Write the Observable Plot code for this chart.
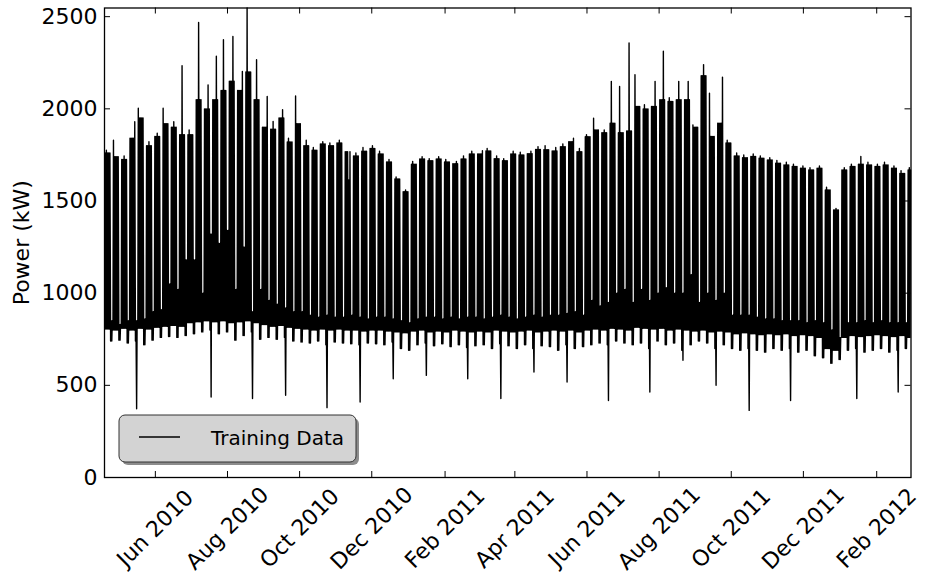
<!DOCTYPE html>
<html>
<head>
<meta charset="utf-8">
<script src="https://cdn.jsdelivr.net/npm/d3@7"></script>
<script src="https://cdn.jsdelivr.net/npm/@observablehq/plot@0.6"></script>
<style>
  html, body { margin: 0; padding: 0; background: #fff; }
  #chart { width: 926px; height: 581px; }
  #chart svg { display: block; }
</style>
</head>
<body>
<div id="chart"></div>
<script>
// Building load, Mon 2010-04-19 through 2012-02-29, summarised week by week
// (week 0 starts on Monday 2010-04-19; the last week is partial).
const firstMonday = "2010-04-19";
const dayCount = 682;

// Typical weekday daytime peak of each week (kW)
const weekTop = [1760,1740,1725,1840,1950,1800,1850,1920,1900,1860,
  1860,2050,2000,2050,2100,2150,2100,2200,2050,1900,
  1890,1950,1820,1920,1800,1775,1810,1800,1815,1768,
  1745,1770,1785,1755,1712,1620,1551,1700,1728,1718,
  1728,1712,1702,1728,1755,1755,1772,1730,1718,1755,
  1750,1757,1780,1778,1772,1795,1822,1768,1849,1886,
  1870,1922,1870,1880,2013,2000,2013,2049,2040,2049,
  2050,1900,2180,1850,1922,1815,1745,1735,1741,1732,
  1723,1705,1696,1687,1678,1668,1678,1560,1451,1668,
  1687,1700,1696,1687,1696,1678,1650,1668];

// The one weekday of each week whose peak stands apart (kW) ...
const oddPeak = [1775,1830,1745,1930,2003,1822,1868,2003,1930,2234,
  1885,2469,2130,2285,2375,2393,2203,2547,2266,2067,
  1931,1995,1840,2070,1830,1790,1822,1815,1830,1614,
  1760,1790,1800,1770,1725,1630,1560,1715,1740,1730,
  1740,1725,1715,1745,1770,1773,1785,1745,1730,1770,
  1765,1770,1795,1800,1790,1810,1840,1785,1860,1949,
  1885,2149,2121,2357,2185,2022,2149,2312,2060,2149,
  2149,1913,2240,2085,2172,1830,1760,1750,1755,1745,
  1735,1720,1710,1700,1690,1680,1690,1575,1460,1680,
  1700,1741,1710,1700,1710,1690,1665,1680];

// ... and which weekday it falls on (0 = Monday)
const oddDay = [1,0,2,4,0,2,2,0,2,2,
  1,2,3,3,2,3,4,1,2,4,
  2,3,1,0,2,1,2,1,2,3,
  2,1,2,1,2,1,2,1,2,1,
  2,1,3,2,2,4,1,2,1,2,
  1,3,2,1,3,2,4,2,1,0,
  2,1,1,2,0,1,3,3,1,2,
  3,0,2,0,4,1,2,1,2,1,
  2,1,2,1,2,1,2,1,2,2,
  1,2,1,2,1,2,1,1];

// Weekend daytime level (kW)
const weekendHigh = [850,830,850,850,860,900,910,1050,1020,1180,
  1180,1000,1320,1270,1340,1020,1250,900,1020,960,
  940,920,900,900,880,870,880,870,870,880,
  870,860,870,870,860,850,840,860,870,870,
  860,870,860,870,870,860,870,880,870,860,
  870,880,870,880,880,890,900,880,960,930,
  950,1000,1020,950,1020,960,1000,1030,1000,1000,
  1100,950,1000,960,1000,880,880,880,870,860,
  860,850,850,850,840,850,840,800,760,840,
  840,850,840,850,840,840,840,840];

// Night-time base load on weekdays (kW)
const weekdayLow = [805,800,810,800,810,805,815,820,825,820,
  840,845,850,845,850,840,845,850,840,830,
  820,825,815,810,805,800,805,800,805,800,
  800,795,800,800,795,790,785,795,800,790,
  795,790,800,795,790,795,790,800,795,790,
  795,800,790,795,800,795,800,790,800,805,
  800,810,805,800,815,810,805,810,800,805,
  800,795,800,790,795,790,780,785,780,775,
  780,775,780,770,775,770,760,700,690,760,
  770,765,770,775,770,765,770,760];

// Night-time base load on weekends (kW)
const weekendLow = [740,745,730,740,720,745,760,765,760,770,
  780,790,800,780,790,745,770,790,750,760,
  750,760,740,735,730,740,720,735,730,725,
  720,730,725,720,735,700,690,720,730,715,
  725,710,720,705,715,720,700,725,715,700,
  720,700,715,710,690,720,700,710,720,730,
  720,740,730,720,730,700,740,720,730,690,
  720,740,730,700,720,700,690,700,690,680,
  700,690,700,680,690,660,650,620,640,690,
  700,680,690,700,680,690,700,690];

// Sunday shutdowns with a sharp drop in load
const dipDates = ["2010-05-16","2010-07-18","2010-08-22","2010-09-19","2010-10-24",
  "2010-11-21","2010-12-19","2011-01-16","2011-02-20","2011-03-20",
  "2011-04-17","2011-05-15","2011-06-19","2011-07-24","2011-08-21",
  "2011-09-18","2011-10-16","2011-11-20","2012-01-15","2012-02-19"];
const dipValues = [373,437,428,446,379,409,536,554,536,428,
  572,518,418,464,636,500,364,418,428,464];

// Axis ticks
const yTicks = [0, 500, 1000, 1500, 2000, 2500];
const xTickDates = ["2010-06-01","2010-08-01","2010-10-01","2010-12-01","2011-02-01",
  "2011-04-01","2011-06-01","2011-08-01","2011-10-01","2011-12-01","2012-02-01"];
const xTickLabels = ["Jun 2010","Aug 2010","Oct 2010","Dec 2010","Feb 2011",
  "Apr 2011","Jun 2011","Aug 2011","Oct 2011","Dec 2011","Feb 2012"];

// Expand the weekly figures into a night/day sequence, two samples per day.
const DAY = 864e5, HOUR = 36e5;
const t0 = Date.parse(firstMonday + "T00:00:00Z");
const dips = new Map(dipDates.map((d, i) => [d, dipValues[i]]));
const series = [];
for (let i = 0; i < dayCount; i++) {
  const k = Math.floor(i / 7), d = i % 7;
  const key = new Date(t0 + i * DAY).toISOString().slice(0, 10);
  const weekend = d >= 5;
  const night = dips.has(key) ? dips.get(key) : (weekend ? weekendLow[k] : weekdayLow[k]);
  const day = weekend ? weekendHigh[k] : (d === oddDay[k] ? oddPeak[k] : weekTop[k]);
  series.push({t: new Date(t0 + i * DAY + 4 * HOUR), kw: night});
  series.push({t: new Date(t0 + i * DAY + 14 * HOUR), kw: day});
}

const W = 926, H = 581;
const mL = 104, mR = 15.5, mT = 7.5, mB = 104;
const plotW = W - mL - mR, plotH = H - mT - mB;
const tick = 6;
const font = "'DejaVu Sans', sans-serif";
const xDates = xTickDates.map(s => new Date(s + "T00:00:00Z"));

const chart = Plot.plot({
  width: W,
  height: H,
  marginLeft: mL,
  marginRight: mR,
  marginTop: mT,
  marginBottom: mB,
  style: {fontFamily: font, fontSize: "22px", color: "black", background: "white", overflow: "visible"},
  x: {type: "utc", domain: [new Date(t0), new Date(t0 + dayCount * DAY)], axis: null},
  y: {domain: [0, d3.max(series, d => d.kw)], axis: null},
  marks: [
    Plot.lineY(series, {x: "t", y: "kw", stroke: "black", strokeWidth: 1.4}),
    Plot.frame({stroke: "black", strokeWidth: 1.3}),
    // inward ticks on all four sides
    Plot.tickY(yTicks, {y: d => d, insetRight: plotW - tick, stroke: "black", strokeWidth: 1}),
    Plot.tickY(yTicks, {y: d => d, insetLeft: plotW - tick, stroke: "black", strokeWidth: 1}),
    Plot.tickX(xDates, {x: d => d, insetTop: plotH - tick, stroke: "black", strokeWidth: 1}),
    Plot.tickX(xDates, {x: d => d, insetBottom: plotH - tick, stroke: "black", strokeWidth: 1}),
    // tick labels
    Plot.text(yTicks, {y: d => d, text: d => String(d), frameAnchor: "left", textAnchor: "end",
      dx: -7, fontSize: 22, fill: "black"}),
    Plot.text(xDates, {x: d => d, text: (d, i) => xTickLabels[i], frameAnchor: "bottom",
      dy: 51, rotate: -45, textAnchor: "middle", lineAnchor: "middle", fontSize: 22, fill: "black"}),
    // y-axis title
    Plot.text(["Power (kW)"], {text: d => d, frameAnchor: "left", dx: -83, rotate: -90,
      textAnchor: "middle", lineAnchor: "middle", fontSize: 22, fill: "black"})
  ]
});

// Legend box in the lower-left corner of the axes
const svg = d3.select(chart);
const lg = svg.append("g").attr("class", "legend").attr("text-anchor", "start");
lg.append("rect").attr("x", 122).attr("y", 418).attr("width", 237).attr("height", 47)
  .attr("rx", 6).attr("fill", "#8c8c8c");
lg.append("rect").attr("x", 119).attr("y", 415).attr("width", 237).attr("height", 47)
  .attr("rx", 6).attr("fill", "#d3d3d3").attr("stroke", "#333").attr("stroke-width", 1);
lg.append("line").attr("x1", 139).attr("x2", 180).attr("y1", 437).attr("y2", 437)
  .attr("stroke", "black").attr("stroke-width", 1.4);
lg.append("text").attr("x", 211).attr("y", 438).attr("dy", "0.35em")
  .attr("text-anchor", "start")
  .attr("font-family", font).attr("font-size", 20).attr("fill", "black").text("Training Data");

document.getElementById("chart").appendChild(chart);
</script>
</body>
</html>
